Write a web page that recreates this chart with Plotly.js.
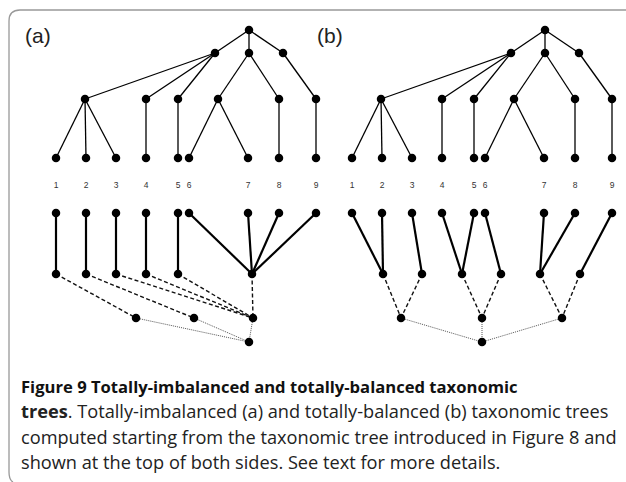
<!DOCTYPE html>
<html>
<head>
<meta charset="utf-8">
<script src="https://cdn.plot.ly/plotly-3.0.1.min.js"></script>
<style>html,body{margin:0;padding:0;background:#fff;}#chart{width:626px;height:482px;}</style>
</head>
<body>
<div id="chart"></div>
<script>
// ---- data: taxonomic tree (Figure 8), shared by both panels ----
const leafLabels = ['1','2','3','4','5','6','7','8','9'];
const leafX = [56, 86, 116, 146, 178, 189, 248, 279, 316];
const rootX = [249];
const level1X = [215, 249, 283];
const level1Parent = [0, 0, 0];
const level2X = [85, 146, 178, 218, 279, 316];
const level2Parent = [0, 0, 0, 1, 1, 2];
const leafParent = [0, 0, 0, 1, 2, 3, 3, 4, 5];

// ---- (a) totally-imbalanced tree ----
const aRow2X = [56, 86, 116, 146, 178, 252];
const aRow1To2 = [0, 1, 2, 3, 4, 5, 5, 5, 5];
const aRow3X = [136, 194, 253];
const aRow2To3 = [0, 1, 2, 2, 2, 2];
const aRow4X = [249];
const aRow3To4 = [0, 0, 0];

// ---- (b) totally-balanced tree ----
const bRow2X = [87, 126, 166, 205, 244, 284];
const bRow1To2 = [0, 0, 1, 2, 2, 3, 4, 4, 5];
const bRow3X = [105, 186, 266];
const bRow2To3 = [0, 0, 1, 1, 2, 2];
const bRow4X = [186];
const bRow3To4 = [0, 0, 0];

// row heights (diagram depth)
const depth = {root:30, l1:53, l2:99, leaf:158, label:186, r1:213, r2:274, r3:318, r4:342};

const panelLabels = ['(a)', '(b)'];
const captionTitle = 'Figure 9 Totally-imbalanced and totally-balanced taxonomic';
const captionLines = [
  ['trees', '. Totally-imbalanced (a) and totally-balanced (b) taxonomic trees'],
  ['', 'computed starting from the taxonomic tree introduced in Figure 8 and'],
  ['', 'shown at the top of both sides. See text for more details.']
];

// ---- helpers ----
function edges(cx, cy, px, py, parent) {
  const x = [], y = [];
  cx.forEach((v, i) => { x.push(v, px[parent[i]], null); y.push(cy, py, null); });
  return {x, y};
}
function fill(arr, v) { return arr.map(() => v); }

const traces = [];
function addPanel(xa, lower) {
  const lineTop = {color:'#000', width:1.3};
  const segs = [
    edges(level1X, depth.l1, rootX, depth.root, level1Parent),
    edges(level2X, depth.l2, level1X, depth.l1, level2Parent),
    edges(leafX, depth.leaf, level2X, depth.l2, leafParent)
  ];
  const tx = [], ty = [];
  segs.forEach(s => { tx.push(...s.x); ty.push(...s.y); });
  traces.push({x:tx, y:ty, xaxis:xa, yaxis:'y', mode:'lines', line:lineTop, hoverinfo:'skip'});

  const e12 = edges(leafX, depth.r1, lower.r2, depth.r2, lower.p12);
  traces.push({x:e12.x, y:e12.y, xaxis:xa, yaxis:'y', mode:'lines', line:{color:'#000', width:2.2}, hoverinfo:'skip'});
  const e23 = edges(lower.r2, depth.r2, lower.r3, depth.r3, lower.p23);
  traces.push({x:e23.x, y:e23.y, xaxis:xa, yaxis:'y', mode:'lines', line:{color:'#111', width:1.4, dash:'4px,2.5px'}, hoverinfo:'skip'});
  const e34 = edges(lower.r3, depth.r3, lower.r4, depth.r4, lower.p34);
  traces.push({x:e34.x, y:e34.y, xaxis:xa, yaxis:'y', mode:'lines', line:{color:'#555', width:1, dash:'1px,1px'}, hoverinfo:'skip'});

  const nx = [].concat(rootX, level1X, level2X, leafX, leafX, lower.r2, lower.r3, lower.r4);
  const ny = [].concat(fill(rootX, depth.root), fill(level1X, depth.l1), fill(level2X, depth.l2),
    fill(leafX, depth.leaf), fill(leafX, depth.r1), fill(lower.r2, depth.r2), fill(lower.r3, depth.r3), fill(lower.r4, depth.r4));
  traces.push({x:nx, y:ny, xaxis:xa, yaxis:'y', mode:'markers', marker:{color:'#000', size:8.5}, hoverinfo:'skip'});

  traces.push({x:leafX, y:fill(leafX, depth.label), xaxis:xa, yaxis:'y', mode:'text', text:leafLabels,
    textfont:{family:'Liberation Sans, Arial, sans-serif', size:8.5, color:'#333'}, hoverinfo:'skip'});
}
addPanel('x', {r2:aRow2X, r3:aRow3X, r4:aRow4X, p12:aRow1To2, p23:aRow2To3, p34:aRow3To4});
addPanel('x2', {r2:bRow2X, r3:bRow3X, r4:bRow4X, p12:bRow1To2, p23:bRow2To3, p34:bRow3To4});

// caption font sizing by measuring text
const family = 'Open Sans';
const ctx = document.createElement('canvas').getContext('2d');
function measure(t, w) { ctx.font = w + ' 100px "' + family + '"'; return ctx.measureText(t).width / 100; }
const boldSize = 497 / measure(captionTitle, 'bold');
const regW2 = measure(captionLines[0][0], 'bold') + measure(captionLines[0][1], 'normal');
const regW3 = measure(captionLines[1][1], 'normal');
const regSize = (592 / regW2 + 592 / regW3) / 2;

const capY = [386, 411, 437, 462];
const annotations = [];
panelLabels.forEach((t, i) => annotations.push({
  x: i === 0 ? 23 : 315, y: 35, xref:'x', yref:'y', text:t, showarrow:false, xanchor:'left', yanchor:'middle',
  font:{family:'Liberation Sans, Arial, sans-serif', size:21, color:'#222'}
}));
annotations.push({x:19, y:capY[0], xref:'x', yref:'y', text:'<b>' + captionTitle + '</b>', showarrow:false,
  xanchor:'left', yanchor:'middle', font:{family:family, size:boldSize, color:'#111'}});
captionLines.forEach((l, i) => annotations.push({x:19, y:capY[i+1], xref:'x', yref:'y',
  text:(l[0] ? '<b>' + l[0] + '</b>' : '') + l[1], showarrow:false, xanchor:'left', yanchor:'middle',
  font:{family:family, size:regSize, color:'#222'}}));

const layout = {
  width:626, height:482, margin:{l:0, r:0, t:0, b:0},
  paper_bgcolor:'#fff', plot_bgcolor:'#fff', showlegend:false,
  xaxis:{range:[0, 626], visible:false, fixedrange:true},
  xaxis2:{range:[-296, 330], visible:false, overlaying:'x', anchor:'y', fixedrange:true},
  yaxis:{range:[482, 0], visible:false, fixedrange:true},
  shapes:[{type:'path', xref:'x', yref:'y', path:'M 626,10 L 20,10 Q 9,10 9,21 L 9,472 Q 9,480 13,482',
    line:{color:'#999', width:1.3}}],
  annotations:annotations
};
Plotly.newPlot('chart', traces, layout, {staticPlot:true, displayModeBar:false});
</script>
</body>
</html>
